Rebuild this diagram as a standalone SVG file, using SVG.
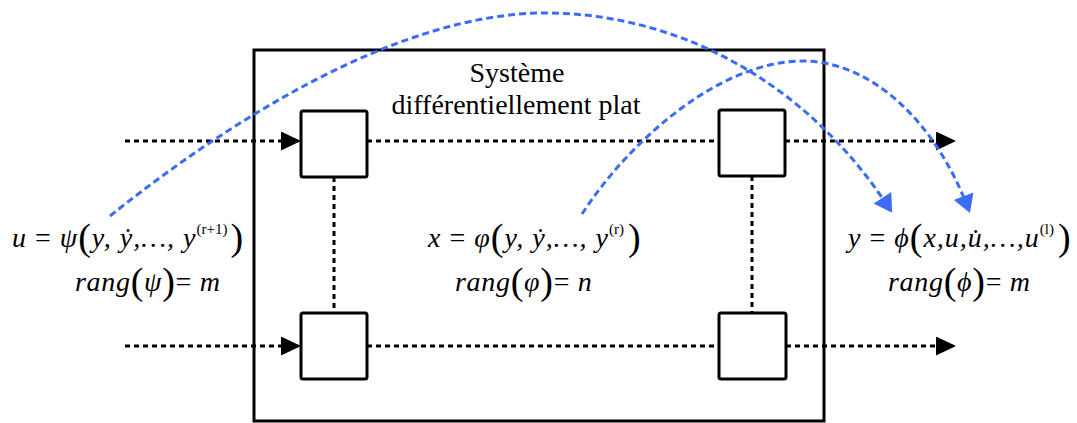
<svg xmlns="http://www.w3.org/2000/svg" width="1077" height="423" viewBox="0 0 1077 423">
<style>
.box{fill:#fff;stroke:#000;stroke-width:3}
.dot{fill:none;stroke:#000;stroke-width:3;stroke-dasharray:5 4}
.blue{fill:none;stroke:#3a6cf6;stroke-width:3;stroke-dasharray:7 4}
.title{font-family:"Liberation Serif","Times New Roman",serif;font-size:28px;fill:#000}
.f{font-family:"Liberation Serif","Times New Roman","DejaVu Serif",serif;font-size:28px;font-style:italic;fill:#000;letter-spacing:1px}
.f2{letter-spacing:0.7px}
.up{font-style:normal}
.par{font-style:normal;font-size:38px}
.sup{font-style:normal;font-size:15px;letter-spacing:0}
</style>
<defs>
<marker id="ah" viewBox="0 0 20 19" markerWidth="20" markerHeight="19" refX="17" refY="9.5" orient="auto" markerUnits="userSpaceOnUse"><path d="M0,0 L20,9.5 L0,19 z" fill="#000"/></marker>
<marker id="bh" viewBox="0 0 18 21" markerWidth="18" markerHeight="21" refX="14" refY="10.5" orient="auto" markerUnits="userSpaceOnUse"><path d="M0,0 L18,10.5 L0,21 z" fill="#3a6cf6"/></marker>
</defs>
<g id="system-frame"><rect x="254" y="50" width="570" height="371" fill="none" stroke="#000" stroke-width="3"/></g>
<g id="title"><text class="title" x="517" y="82" text-anchor="middle">Système</text><text class="title" x="516" y="114" text-anchor="middle">différentiellement plat</text></g>
<g id="connectors">
<path class="dot" d="M125,141 H298" marker-end="url(#ah)"/>
<path class="dot" d="M367,141 H719"/>
<path class="dot" d="M785,141 H953" marker-end="url(#ah)"/>
<path class="dot" d="M125,346 H298" marker-end="url(#ah)"/>
<path class="dot" d="M367,346 H719"/>
<path class="dot" d="M786,346 H953" marker-end="url(#ah)"/>
<path class="dot" d="M334,177 V313"/>
<path class="dot" d="M752,176 V313"/>
<path class="blue" d="M110,216 C230,120 400,13 545,13 C680,13 809,84 890,209.5" marker-end="url(#bh)"/>
<path class="blue" d="M582,214 C630,140 720,61 803,61 C870,61 935,120 968.5,209.3" marker-end="url(#bh)"/>
</g>
<g id="block-tl"><rect class="box" x="301" y="111" width="66" height="66" rx="2"/></g>
<g id="block-tr"><rect class="box" x="719" y="110" width="66" height="66" rx="2"/></g>
<g id="block-bl"><rect class="box" x="301" y="313" width="66" height="66" rx="2"/></g>
<g id="block-br"><rect class="box" x="719" y="313" width="67" height="66" rx="2"/></g>
<g id="formula-u">
<text class="f" x="12" y="247">u<tspan class="up"> = </tspan>ψ<tspan class="par" dy="3">(</tspan><tspan dy="-3">y, ẏ,…, y</tspan><tspan class="sup" dy="-13">(r+1)</tspan><tspan class="par" dy="16" dx="3">)</tspan></text>
<text class="f f2" x="75" y="291">rang<tspan class="par" dy="3">(</tspan><tspan dy="-3">ψ</tspan><tspan class="par" dy="3">)</tspan><tspan class="up" dy="-3">= </tspan>m</text>
</g>
<g id="formula-x">
<text class="f" x="428" y="247">x<tspan class="up"> = </tspan>φ<tspan class="par" dy="3">(</tspan><tspan dy="-3">y, ẏ,…, y</tspan><tspan class="sup" dy="-13">(r)</tspan><tspan class="par" dy="16" dx="4">)</tspan></text>
<text class="f f2" x="455" y="291">rang<tspan class="par" dy="3">(</tspan><tspan dy="-3">φ</tspan><tspan class="par" dy="3">)</tspan><tspan class="up" dy="-3">= </tspan>n</text>
</g>
<g id="formula-y">
<text class="f" x="848" y="247">y<tspan class="up"> = </tspan>ϕ<tspan class="par" dy="3">(</tspan><tspan dy="-3">x,u,u̇,…,u</tspan><tspan class="sup" dy="-13">(l)</tspan><tspan class="par" dy="16" dx="4">)</tspan></text>
<text class="f f2" x="888" y="291">rang<tspan class="par" dy="3">(</tspan><tspan dy="-3">ϕ</tspan><tspan class="par" dy="3">)</tspan><tspan class="up" dy="-3">= </tspan>m</text>
</g>
</svg>
